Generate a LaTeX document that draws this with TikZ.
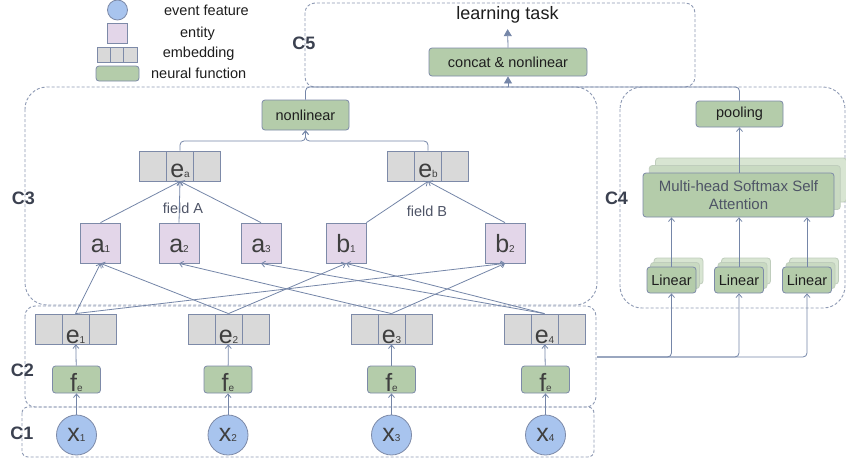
\documentclass[tikz,border=0pt]{standalone}
\usepackage{fontspec}
\setmainfont{Liberation Sans}
\usetikzlibrary{arrows.meta,calc}
\definecolor{edgec}{HTML}{7586A8}
\definecolor{boxline}{HTML}{7D8AA8}
\definecolor{dashc}{HTML}{8E9AB4}
\definecolor{featfill}{HTML}{A8C4EE}
\definecolor{entfill}{HTML}{E3D6E9}
\definecolor{embfill}{HTML}{D9D9D9}
\definecolor{nnfill}{HTML}{B4CCAA}
\definecolor{nnshadowa}{HTML}{C9DAC2}
\definecolor{nnshadowb}{HTML}{D8E5D2}
\definecolor{shline}{HTML}{BFCDBC}
\definecolor{txt}{HTML}{1E1E1E}
\definecolor{symc}{HTML}{3F3F3F}
\definecolor{grpc}{HTML}{3B4150}
\definecolor{softc}{HTML}{4E5466}
\newcommand{\myfs}[1]{\fontsize{#1}{#1}\selectfont}
\newcommand{\mysym}[2]{{\myfs{25}#1}{\myfs{10}#2}}
\tikzset{
  grp/.style={draw=dashc, dash pattern=on 3pt off 2pt, line width=0.9pt},
  conn/.style={draw=edgec, line width=0.8pt},
  arr/.style={conn, -{Straight Barb[length=3.5pt,width=6pt]}},
  farr/.style={conn, -{Triangle[length=7pt,width=8pt]}},
  feat/.style={circle, draw=boxline, fill=featfill, minimum size=40pt, inner sep=0pt, text=symc, line width=0.8pt, text height=12pt, text depth=0pt},
  ent/.style={rectangle, draw=boxline, fill=entfill, minimum size=40pt, inner sep=0pt, text=symc, line width=0.8pt, text height=18pt, text depth=0pt},
  embbase/.style={rectangle, draw=boxline, fill=embfill, inner sep=0pt, text=symc, line width=0.8pt,
    path picture={\draw[boxline, line width=0.8pt]
      ($(path picture bounding box.north west)!1/3!(path picture bounding box.north east)$) --
      ($(path picture bounding box.south west)!1/3!(path picture bounding box.south east)$)
      ($(path picture bounding box.north west)!2/3!(path picture bounding box.north east)$) --
      ($(path picture bounding box.south west)!2/3!(path picture bounding box.south east)$);}},
  emb/.style={embbase, minimum width=81pt, minimum height=30pt, text height=28pt, text depth=0pt},
  fld/.style={embbase, minimum width=81pt, minimum height=30pt, text height=22pt, text depth=0pt},
  nn/.style={rectangle, rounded corners=3pt, draw=boxline, fill=nnfill, inner sep=0pt, text=txt, line width=0.8pt, font=\myfs{14.5}},
  fn/.style={nn, minimum width=48pt, minimum height=27pt, text=symc, text height=23pt, text depth=0pt},
  lin/.style={nn, minimum width=49pt, minimum height=26pt},
  linsha/.style={lin, fill=nnshadowa, draw=shline},
  linshb/.style={lin, fill=nnshadowb, draw=shline},
  grplabel/.style={font=\bfseries\myfs{18}, text=grpc, inner sep=0pt},
  lgtext/.style={font=\myfs{14.5}, text=txt, inner sep=0pt},
  fldtext/.style={font=\myfs{14.5}, text=softc, inner sep=0pt},
}
\begin{document}
\begin{tikzpicture}[x=1pt,y=-1pt]
\useasboundingbox (0,0) rectangle (846,463);
\fill[white] (0,0) rectangle (846,463);
% groups
\draw[grp, rounded corners=10pt] (305,3) rectangle (695,87);
\draw[grp, rounded corners=22pt] (25,87) rectangle (597,305);
\draw[grp, rounded corners=22pt] (620,87) rectangle (845,308);
\draw[grp, rounded corners=10pt] (25,306) rectangle (596,407);
\draw[grp, rounded corners=6pt] (22,407) rectangle (594,457);
\node[grplabel] (c5) at (304,43) {C5};
\node[grplabel] (c3) at (23.5,198) {C3};
\node[grplabel] (c4) at (616.5,198) {C4};
\node[grplabel] (c2) at (22.5,370) {C2};
\node[grplabel] (c1) at (22,433) {C1};
% legend
\node[feat, minimum size=20pt] (lgfeat) at (117.5,10) {};
\node[ent, minimum size=20pt] (lgent) at (117.5,33) {};
\node[embbase, minimum width=40pt, minimum height=15pt] (lgemb) at (117,54.5) {};
\node[nn, minimum width=43pt, minimum height=15pt] (lgnn) at (117.5,73.5) {};
\node[lgtext] (lt1) at (206.5,10) {event feature};
\node[lgtext] (lt2) at (197.5,33.5) {entity};
\node[lgtext] (lt3) at (198.7,54) {embedding};
\node[lgtext] (lt4) at (198.7,73) {neural function};
% C5
\node[font=\myfs{18}, text=txt, inner sep=0pt, anchor=base] (task) at (507.5,19.5) {learning task};
\node[nn, minimum width=158pt, minimum height=28pt] (concat) at (508,62) {concat \& nonlinear};
% C3
\node[nn, minimum width=87pt, minimum height=30pt] (nonlin) at (305.5,115) {nonlinear};
\node[fld] (ea) at (180,166) {\mysym{e}{a}};
\node[fld] (eb) at (428,166) {\mysym{e}{b}};
\node[ent] (a1) at (100.5,243) {\mysym{a}{1}};
\node[ent] (a2) at (179,243) {\mysym{a}{2}};
\node[ent] (a3) at (261,243) {\mysym{a}{3}};
\node[ent] (b1) at (346,243) {\mysym{b}{1}};
\node[ent] (b2) at (505,243) {\mysym{b}{2}};
\node[fldtext] (fa) at (183,208) {field A};
\node[fldtext] (fb) at (427,211) {field B};
% C2 / C1
\node[emb] (e1) at (75.5,329) {\mysym{e}{1}};
\node[emb] (e2) at (228.5,329) {\mysym{e}{2}};
\node[emb] (e3) at (391.5,329) {\mysym{e}{3}};
\node[emb] (e4) at (544.5,329) {\mysym{e}{4}};
\node[fn] (f1) at (76.5,379.5) {\mysym{f}{e}};
\node[fn] (f2) at (228,379.5) {\mysym{f}{e}};
\node[fn] (f3) at (391.5,379.5) {\mysym{f}{e}};
\node[fn] (f4) at (545.5,379.5) {\mysym{f}{e}};
\node[feat] (x1) at (76.5,435) {\mysym{x}{1}};
\node[feat] (x2) at (228,435) {\mysym{x}{2}};
\node[feat] (x3) at (391.5,435) {\mysym{x}{3}};
\node[feat] (x4) at (545.5,435) {\mysym{x}{4}};
% C4
\node[nn, fill=nnshadowb, draw=shline, minimum width=191pt, minimum height=44pt] (mhc) at (751,180) {};
\node[nn, fill=nnshadowa, draw=shline, minimum width=191pt, minimum height=44pt] (mhb) at (744.8,187.5) {};
\node[nn, minimum width=191pt, minimum height=44pt, align=center, text=softc, font=\fontsize{15}{18}\selectfont] (mh) at (738.5,195) {Multi-head Softmax Self\\Attention};
\node[nn, minimum width=87pt, minimum height=26pt] (pool) at (739.5,114) {pooling};
\node[linshb] (l1c) at (678.5,271) {};
\node[linsha] (l1b) at (675,275.5) {};
\node[lin] (l1) at (671.5,280) {Linear};
\node[linshb] (l2c) at (746,271) {};
\node[linsha] (l2b) at (742.5,275.5) {};
\node[lin] (l2) at (739,280) {Linear};
\node[linshb] (l3c) at (814,271) {};
\node[linsha] (l3b) at (810.5,275.5) {};
\node[lin] (l3) at (807,280) {Linear};
% connectors
\coordinate (src) at (597,357);
\coordinate (merge) at (508,87);
\coordinate (fjoin) at (305.5,141);
\draw[farr, shorten >=5.7pt] (concat.north) -- (task.south);
\draw[conn, rounded corners=4pt] (nonlin.north) |- (merge);
\draw[conn, rounded corners=4pt] (pool.north) |- (merge);
\draw[farr] (merge) -- (concat.south);
\draw[arr, rounded corners=4pt] (ea.north) |- (fjoin) -- (nonlin.south);
\draw[arr, rounded corners=4pt] (eb.north) |- (fjoin) -- (nonlin.south);
\draw[arr] (a1.north) -- (ea.south);
\draw[arr] (a2.north) -- (ea.south);
\draw[arr] (a3.north) -- (ea.south);
\draw[arr] (b1.north east) -- (eb.south);
\draw[arr] (b2.north) -- (eb.south);
\draw[arr] (e1.north) -- (a1.south);
\draw[arr] (e1.north) -- (b2.south);
\draw[arr] (e2.north) -- (a1.south);
\draw[arr] (e2.north) -- (b1.south);
\draw[arr] (e3.north) -- (a2.south);
\draw[arr] (e3.north) -- (b2.south);
\draw[arr] (e4.north) -- (a3.south);
\draw[arr] (e4.north) -- (b1.south);
\foreach \i in {1,2,3,4}{
  \draw[arr] (x\i) -- (f\i);
  \draw[arr] (f\i) -- (e\i);
}
\foreach \i in {1,2,3}{
  \draw[arr, rounded corners=4pt] (src) -| (l\i.south);
  \draw[arr] (l\i.north) -- (l\i.north |- mh.south);
}
\draw[arr] (pool.south |- mh.north) -- (pool.south);
\end{tikzpicture}
\end{document}
